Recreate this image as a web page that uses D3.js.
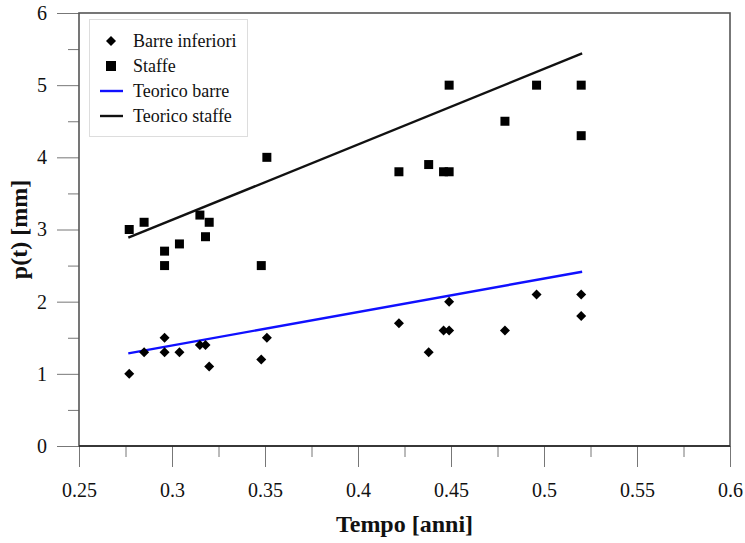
<!DOCTYPE html>
<html>
<head>
<meta charset="utf-8">
<script src="https://cdn.jsdelivr.net/npm/d3@7"></script>
<style>
  html, body { margin: 0; padding: 0; background: #fff; }
  svg { display: block; }
  text { font-family: "Liberation Serif", "Times New Roman", serif; fill: #111; }
</style>
</head>
<body>
<svg id="chart" width="745" height="543"></svg>
<script>
// ---- data ----
const tempoBarre = [0.277, 0.285, 0.296, 0.296, 0.304, 0.315, 0.318, 0.320, 0.348, 0.351, 0.422, 0.438, 0.446, 0.449, 0.449, 0.479, 0.496, 0.520, 0.520];
const barreInferiori = [1.0, 1.3, 1.5, 1.3, 1.3, 1.4, 1.4, 1.1, 1.2, 1.5, 1.7, 1.3, 1.6, 1.6, 2.0, 1.6, 2.1, 2.1, 1.8];
const tempoStaffe = [0.277, 0.285, 0.296, 0.296, 0.304, 0.315, 0.318, 0.320, 0.348, 0.351, 0.422, 0.438, 0.446, 0.449, 0.449, 0.479, 0.496, 0.520, 0.520];
const staffe = [3.0, 3.1, 2.7, 2.5, 2.8, 3.2, 2.9, 3.1, 2.5, 4.0, 3.8, 3.9, 3.8, 3.8, 5.0, 4.5, 5.0, 5.0, 4.3];
const tempoTeorico = [0.2765, 0.5205];
const teoricoBarre = [1.284, 2.415];
const teoricoStaffe = [2.886, 5.44];
const xTicks = [0.25, 0.3, 0.35, 0.4, 0.45, 0.5, 0.55, 0.6];
const yTicks = [0, 1, 2, 3, 4, 5, 6];
const legendLabels = ["Barre inferiori", "Staffe", "Teorico barre", "Teorico staffe"];

// ---- layout ----
const L = 79, R = 730, T = 13, B = 446;
const svg = d3.select("#chart");
const x = d3.scaleLinear().domain([0.25, 0.6]).range([L, R]);
const y = d3.scaleLinear().domain([0, 6]).range([B, T]);

// minor tick values (midpoints)
const xMinor = d3.range(xTicks.length - 1).map(i => (xTicks[i] + xTicks[i + 1]) / 2);
const yMinor = d3.range(yTicks.length - 1).map(i => (yTicks[i] + yTicks[i + 1]) / 2);

// x axis major
const gx = svg.append("g").attr("transform", `translate(0,${B})`)
  .call(d3.axisBottom(x).tickValues(xTicks).tickSize(21).tickPadding(16)
    .tickFormat(d => d3.format("")(+d.toFixed(2))));
gx.select(".domain").remove();
gx.selectAll("line").attr("stroke", "#777").attr("stroke-width", 1);
gx.selectAll("text").attr("font-size", 20).attr("font-family", "Liberation Serif").attr("fill", "#111");
// x minor
const gxm = svg.append("g").attr("transform", `translate(0,${B})`)
  .call(d3.axisBottom(x).tickValues(xMinor).tickSize(11).tickFormat(""));
gxm.select(".domain").remove();
gxm.selectAll("line").attr("stroke", "#777");

// y axis major
const gy = svg.append("g").attr("transform", `translate(${L},0)`)
  .call(d3.axisLeft(y).tickValues(yTicks).tickSize(22).tickPadding(10).tickFormat(d3.format("d")));
gy.select(".domain").remove();
gy.selectAll("line").attr("stroke", "#777").attr("stroke-width", 1);
gy.selectAll("text").attr("font-size", 20).attr("font-family", "Liberation Serif").attr("fill", "#111");
// y minor
const gym = svg.append("g").attr("transform", `translate(${L},0)`)
  .call(d3.axisLeft(y).tickValues(yMinor).tickSize(11).tickFormat(""));
gym.select(".domain").remove();
gym.selectAll("line").attr("stroke", "#777");

// frame
svg.append("rect").attr("x", L).attr("y", T).attr("width", R - L).attr("height", B - T)
  .attr("fill", "none").attr("stroke", "#555").attr("stroke-width", 1.6);
svg.append("line").attr("x1", L).attr("x2", R).attr("y1", B).attr("y2", B)
  .attr("stroke", "#222").attr("stroke-width", 1.6);

// theoretical lines
const lineGen = (vals) => d3.line().x((d, i) => x(tempoTeorico[i])).y(d => y(d))(vals);
svg.append("path").attr("d", lineGen(teoricoBarre)).attr("fill", "none")
  .attr("stroke", "#1010ff").attr("stroke-width", 2.4);
svg.append("path").attr("d", lineGen(teoricoStaffe)).attr("fill", "none")
  .attr("stroke", "#111").attr("stroke-width", 2.4);

// markers
const sq = d3.symbol().type(d3.symbolSquare).size(81);
const dm = d3.symbol().type(d3.symbolSquare).size(50);
svg.append("g").selectAll("path").data(staffe).join("path")
  .attr("d", sq).attr("fill", "#000")
  .attr("transform", (d, i) => `translate(${x(tempoStaffe[i])},${y(d)})`);
svg.append("g").selectAll("path").data(barreInferiori).join("path")
  .attr("d", dm).attr("fill", "#000")
  .attr("transform", (d, i) => `translate(${x(tempoBarre[i])},${y(d)}) rotate(45)`);

// legend
const lg = svg.append("g");
lg.append("rect").attr("x", 89.5).attr("y", 19.5).attr("width", 158).attr("height", 117)
  .attr("fill", "#fff").attr("stroke", "#ddd").attr("stroke-width", 1);
const ly = [41, 66, 91, 116];
lg.append("path").attr("d", dm).attr("fill", "#000").attr("transform", `translate(111,${ly[0]}) rotate(45)`);
lg.append("path").attr("d", d3.symbol().type(d3.symbolSquare).size(100)).attr("fill", "#000").attr("transform", `translate(111,${ly[1]})`);
lg.append("line").attr("x1", 100).attr("x2", 123).attr("y1", ly[2]).attr("y2", ly[2]).attr("stroke", "#1010ff").attr("stroke-width", 2.4);
lg.append("line").attr("x1", 100).attr("x2", 123).attr("y1", ly[3]).attr("y2", ly[3]).attr("stroke", "#111").attr("stroke-width", 2.4);
lg.selectAll("text.lab").data(legendLabels).join("text").attr("class", "lab")
  .attr("x", 133).attr("y", (d, i) => ly[i] + 6).attr("font-size", 18).text(d => d);

// axis titles
svg.append("text").attr("x", (L + R) / 2).attr("y", 532).attr("text-anchor", "middle")
  .attr("font-size", 24).attr("font-weight", "bold").text("Tempo [anni]");
svg.append("text").attr("transform", `translate(27,${(T + B) / 2}) rotate(-90)`).attr("text-anchor", "middle")
  .attr("font-size", 24).attr("font-weight", "bold").text("p(t) [mm]");
</script>
</body>
</html>
